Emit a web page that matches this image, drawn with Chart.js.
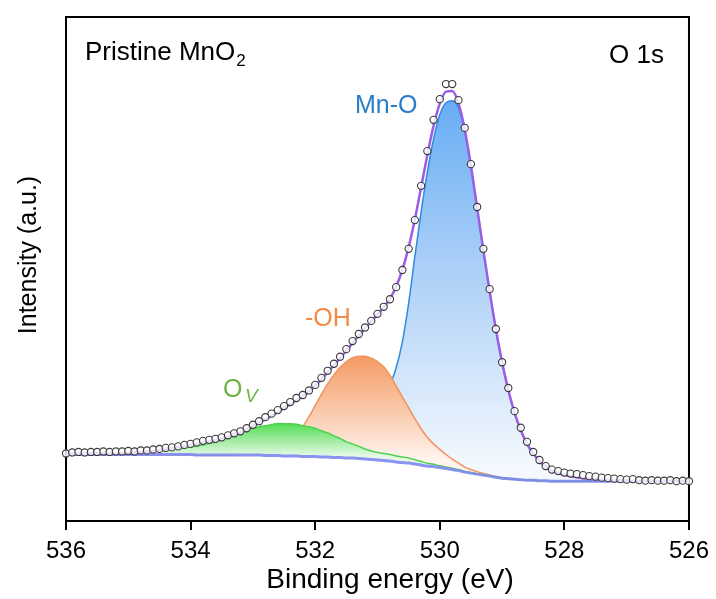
<!DOCTYPE html>
<html><head><meta charset="utf-8">
<script src="https://cdn.jsdelivr.net/npm/chart.js@4.4.0/dist/chart.umd.min.js"></script>
<style>html,body{margin:0;padding:0;background:#fff}#wrap{width:716px;height:599px;position:relative}</style>
</head><body><div id="wrap"><canvas id="c"></canvas></div>
<script>
// Binding energy grid (eV)
const energy = [
536.0,535.9,535.8,535.7,535.6,535.5,535.4,535.3,535.2,535.1,
535.0,534.9,534.8,534.7,534.6,534.5,534.4,534.3,534.2,534.1,
534.0,533.9,533.8,533.7,533.6,533.5,533.4,533.3,533.2,533.1,
533.0,532.9,532.8,532.7,532.6,532.5,532.4,532.3,532.2,532.1,
532.0,531.9,531.8,531.7,531.6,531.5,531.4,531.3,531.2,531.1,
531.0,530.9,530.8,530.7,530.6,530.5,530.4,530.3,530.2,530.1,
530.0,529.9,529.8,529.7,529.6,529.5,529.4,529.3,529.2,529.1,
529.0,528.9,528.8,528.7,528.6,528.5,528.4,528.3,528.2,528.1,
528.0,527.9,527.8,527.7,527.6,527.5,527.4,527.3,527.2,527.1,
527.0,526.9,526.8,526.7,526.6,526.5,526.4,526.3,526.2,526.1,
526.0];
const xTicks = [536, 534, 532, 530, 528, 526];

// Measured data (open circles)
const measured = [
13.4,13.6,13.7,13.6,13.7,13.7,13.8,13.7,13.8,13.8,
13.9,13.8,14.0,14.0,14.2,14.3,14.5,14.6,14.8,15.1,
15.3,15.6,15.9,16.1,16.3,16.6,17.0,17.4,17.8,18.4,
19.1,19.8,20.6,21.3,22.0,22.8,23.6,24.4,25.0,25.9,
27.0,28.4,29.8,31.2,32.6,34.1,35.7,37.1,38.4,39.7,
41.1,42.5,44.0,46.4,49.8,54.0,59.7,66.5,73.4,79.6,
83.7,86.7,86.7,83.5,78.0,70.8,62.3,54.0,46.0,38.1,
31.5,26.4,21.8,18.5,15.7,13.7,12.1,10.9,10.2,9.9,
9.6,9.4,9.3,9.1,8.9,8.8,8.6,8.5,8.4,8.3,
8.2,8.3,8.1,8.0,8.1,8.0,8.0,8.1,7.9,8.0,
7.9];

// Fitted envelope (purple line)
const envelope = [
13.3,13.4,13.4,13.4,13.4,13.4,13.4,13.4,13.4,13.5,
13.5,13.6,13.7,13.8,13.9,14.1,14.3,14.5,14.7,14.9,
15.1,15.3,15.6,15.8,16.1,16.4,16.8,17.2,17.6,18.2,
18.9,19.5,20.2,20.9,21.6,22.4,23.2,24.0,24.8,25.7,
26.8,28.1,29.5,30.9,32.3,33.8,35.3,36.8,38.2,39.6,
41.0,42.4,44.1,46.5,49.9,54.3,59.8,66.2,72.6,78.4,
82.8,85.2,85.3,82.9,77.7,70.5,62.1,53.7,45.6,38.1,
31.5,26.0,21.5,18.0,15.3,13.4,11.9,10.8,10.0,9.5,
9.1,8.9,8.7,8.5,8.4,8.3,8.2,8.15,8.1,8.05,
8.0,8.0,8.0,8.0,8.0,8.0,8.0,8.0,8.0,8.0,
8.0];

// Shirley background
const background = [
13.2,13.2,13.2,13.2,13.2,13.2,13.2,13.2,13.2,13.2,
13.2,13.2,13.2,13.2,13.2,13.2,13.2,13.2,13.2,13.2,
13.2,13.1,13.1,13.1,13.1,13.1,13.1,13.1,13.1,13.1,
13.1,13.1,13.0,13.0,13.0,12.9,12.9,12.9,12.8,12.8,
12.8,12.7,12.7,12.6,12.6,12.5,12.5,12.4,12.3,12.2,
12.1,12.0,11.9,11.7,11.6,11.5,11.3,11.1,10.9,10.8,
10.6,10.4,10.2,10.0,9.7,9.5,9.3,9.1,8.9,8.7,
8.5,8.4,8.3,8.2,8.1,8.1,8.0,8.0,7.9,7.9,
7.9,7.9,7.9,7.9,7.9,7.9,7.9,7.9,7.9,7.9,
7.9,7.9,7.9,7.9,7.9,7.9,7.9,7.9,7.9,7.9,
7.9];

// Component heights above background
const peakOV = [
0.1,0.1,0.1,0.15,0.15,0.2,0.2,0.25,0.3,0.3,
0.35,0.4,0.5,0.55,0.65,0.75,0.85,1.0,1.15,1.3,
1.5,1.75,2.0,2.3,2.6,3.0,3.5,4.0,4.5,4.9,
5.3,5.6,5.9,6.15,6.35,6.4,6.4,6.3,6.1,5.9,
5.6,5.2,4.8,4.3,3.8,3.2,2.8,2.4,2.0,1.7,
1.5,1.4,1.3,1.2,1.1,1.0,0.85,0.7,0.55,0.45,
0.35,0.3,0.25,0.2,0.15,0.1,0.05,0.05,0.05,0,
0,0,0,0,0,0,0,0,0,0,
0,0,0,0,0,0,0,0,0,0,
0,0,0,0,0,0,0,0,0,0,
0];
const peakOH = [
0,0,0,0,0,0,0,0,0,0,
0,0,0,0,0,0,0,0,0,0,
0,0,0,0,0,0,0,0.05,0.1,0.15,
0.2,0.3,0.45,0.7,1.1,1.8,2.8,4.2,5.9,7.9,
10.1,12.4,14.5,16.4,17.9,19.1,19.9,20.3,20.4,20.1,
19.5,18.6,17.0,15.1,13.0,11.0,9.0,7.2,5.7,4.5,
3.6,2.8,2.1,1.5,1.0,0.7,0.5,0.35,0.25,0.15,
0.1,0.05,0,0,0,0,0,0,0,0,
0,0,0,0,0,0,0,0,0,0,
0,0,0,0,0,0,0,0,0,0,
0];
const peakMnO = [
0.05,0.05,0.05,0.05,0.05,0.05,0.05,0.05,0.05,0.05,
0.05,0.05,0.05,0.05,0.05,0.05,0.05,0.05,0.05,0.05,
0.1,0.1,0.1,0.12,0.14,0.16,0.18,0.2,0.22,0.24,
0.25,0.27,0.3,0.32,0.35,0.38,0.42,0.5,0.6,0.7,
0.85,1.0,1.2,1.5,1.8,2.2,2.8,3.6,4.7,6.3,
8.5,11.5,15.0,18.7,24.0,31.7,41.2,50.2,58.3,65.0,
70.0,72.6,73.2,72.0,67.6,60.8,52.6,44.4,36.6,29.3,
22.9,17.5,13.1,9.8,7.2,5.3,3.9,2.8,2.1,1.6,
1.2,1.0,0.8,0.6,0.5,0.4,0.3,0.25,0.2,0.15,
0.1,0.1,0.1,0.08,0.08,0.06,0.06,0.05,0.05,0.05,
0.05];

const FONT = "'Liberation Sans', Arial, Helvetica, sans-serif";
Chart.defaults.font.family = FONT;

const pts = arr => energy.map((e, i) => ({x: e, y: arr[i]}));
const onBg = arr => energy.map((e, i) => ({x: e, y: background[i] + arr[i]}));

function vgrad(chart, arr, stops) {
  const {ctx, chartArea, scales} = chart;
  if (!chartArea) return stops[0][1];
  let im = 0;
  arr.forEach((v, i) => { if (v > arr[im]) im = i; });
  const y0 = scales.y.getPixelForValue(background[im] + arr[im]);
  const y1 = scales.y.getPixelForValue(background[im]);
  const g = ctx.createLinearGradient(0, y0, 0, y1);
  stops.forEach(s => g.addColorStop(s[0], s[1]));
  return g;
}

const deco = {
  id: 'deco',
  beforeDatasetsDraw(chart) {
    const {ctx, chartArea: a} = chart;
    ctx.save();
    ctx.lineWidth = 2; ctx.strokeStyle = '#000';
    ctx.strokeRect(a.left, a.top, a.right - a.left, a.bottom - a.top);
    ctx.restore();
  },
  afterDraw(chart) {
    const c = chart.ctx;
    c.save();
    c.textBaseline = 'alphabetic';
    c.textAlign = 'left';
    c.fillStyle = '#000';
    c.font = '26px ' + FONT;
    c.fillText('Pristine MnO', 85, 60);
    const w = c.measureText('Pristine MnO').width;
    c.font = '17px ' + FONT;
    c.fillText('2', 85 + w + 1, 66);
    c.font = '26px ' + FONT;
    c.textAlign = 'right';
    c.fillText('O 1s', 664, 63);
    c.textAlign = 'left';
    c.font = '25px ' + FONT;
    c.fillStyle = '#2a7cc7';
    c.fillText('Mn-O', 355, 113);
    c.fillStyle = '#f28c45';
    c.fillText('-OH', 305, 326);
    c.fillStyle = '#6db33f';
    c.fillText('O', 223, 397);
    c.font = 'italic 19px ' + FONT;
    c.fillText('V', 245, 402);
    c.fillStyle = '#000';
    c.font = '28px ' + FONT;
    c.textAlign = 'center';
    c.fillText('Binding energy (eV)', 390, 588);
    c.translate(36, 255);
    c.rotate(-Math.PI / 2);
    c.font = '25px ' + FONT;
    c.fillText('Intensity (a.u.)', 0, 0);
    c.restore();
  }
};

new Chart(document.getElementById('c'), {
  type: 'line',
  data: {
    datasets: [
      {label: 'Data', data: pts(measured), showLine: false, pointRadius: 3.6, pointBorderWidth: 1.1,
       pointBorderColor: '#3a3a3a', pointBackgroundColor: 'rgba(255,255,255,0.8)', borderColor: '#3a3a3a',
       order: 0, clip: false},
      {label: 'Fit', data: pts(envelope), borderColor: '#9b5de5', borderWidth: 2.5, pointRadius: 0,
       fill: false, cubicInterpolationMode: 'monotone', order: 1},
      {label: 'Background', data: pts(background), borderColor: 'rgba(125,135,240,0.9)', borderWidth: 3,
       pointRadius: 0, fill: false, cubicInterpolationMode: 'monotone', order: 2},
      {label: 'Ov', data: onBg(peakOV), borderColor: '#4fd14f', borderWidth: 1.5, pointRadius: 0,
       fill: {target: 2}, cubicInterpolationMode: 'monotone', order: 3,
       backgroundColor: ctx => vgrad(ctx.chart, peakOV, [[0, '#55dd55'], [1, '#e6f9e6']])},
      {label: '-OH', data: onBg(peakOH), borderColor: '#f0935e', borderWidth: 1.5, pointRadius: 0,
       fill: {target: 2}, cubicInterpolationMode: 'monotone', order: 4,
       backgroundColor: ctx => vgrad(ctx.chart, peakOH, [[0, '#f59a64'], [0.5, '#f9c6a6'], [1, '#fff4ee']])},
      {label: 'Mn-O', data: onBg(peakMnO), borderColor: '#2f8ae3', borderWidth: 1.5, pointRadius: 0,
       fill: {target: 2}, cubicInterpolationMode: 'monotone', order: 5,
       backgroundColor: ctx => vgrad(ctx.chart, peakMnO, [[0, '#68adf4'], [0.45, '#abcff7'], [1, '#f5f9fe']])}
    ]
  },
  options: {
    responsive: true,
    maintainAspectRatio: false,
    animation: false,
    layout: {padding: {left: 66, right: 27, top: 17, bottom: 0}},
    plugins: {legend: {display: false}, tooltip: {enabled: false}},
    scales: {
      x: {
        type: 'linear', reverse: true, min: 526, max: 536,
        afterFit(s) { s.height = 78; },
        afterBuildTicks(s) { s.ticks = xTicks.map(v => ({value: v})); },
        ticks: {font: {size: 24}, color: '#000', padding: 7, maxRotation: 0, autoSkip: false,
                callback: v => String(v)},
        grid: {display: true, drawOnChartArea: false, drawTicks: true, tickLength: 9, tickWidth: 2,
               tickColor: '#000', color: '#000', lineWidth: 2},
        border: {display: true, color: '#000', width: 2}
      },
      y: {display: false, min: 0, max: 100}
    }
  },
  plugins: [deco]
});
</script>
</body></html>
